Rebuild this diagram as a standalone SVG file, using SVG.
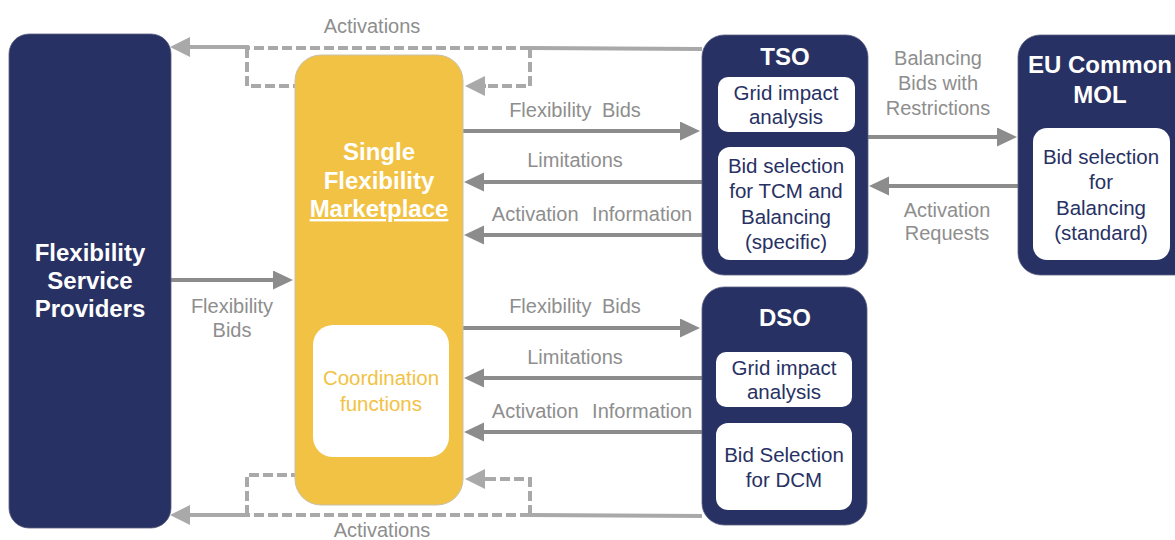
<svg xmlns="http://www.w3.org/2000/svg" width="1175" height="540" viewBox="0 0 1175 540">
<style>
.navy{fill:#283163;stroke:#5a6080;stroke-width:0.8}
.inner{fill:#ffffff}
.t{font-family:"Liberation Sans",Arial,sans-serif;text-anchor:middle}
.title{font-weight:bold;font-size:24px;fill:#ffffff}
.in{font-size:20.5px;fill:#283163}
.lbl{font-size:20px;fill:#8e8e8e}
.arr{stroke:#8c8c8c;stroke-width:4;fill:none}
.act{stroke:#a9a9a9;stroke-width:4;fill:none}
.dash{stroke:#a9a9a9;stroke-width:4;fill:none;stroke-dasharray:10 4}
</style>
<defs>
<marker id="ah" markerUnits="userSpaceOnUse" markerWidth="22" markerHeight="20" refX="1" refY="9.5" orient="auto">
<path d="M0,0 L20,9.5 L0,19 z" fill="#8c8c8c"/>
</marker>
<marker id="ahl" markerUnits="userSpaceOnUse" markerWidth="22" markerHeight="22" refX="1" refY="10" orient="auto">
<path d="M0,0 L20,10 L0,20 z" fill="#a9a9a9"/>
</marker>
</defs>
<rect width="1175" height="540" fill="#ffffff"/>

<g id="connectors">
<!-- top activations -->
<line class="act" x1="702" y1="49" x2="530" y2="48"/>
<line class="dash" x1="530" y1="48" x2="247" y2="48"/>
<line class="act" x1="249" y1="47" x2="189" y2="47" marker-end="url(#ahl)"/>
<polyline class="dash" points="247,48 247,86 295,86"/>
<polyline class="dash" points="530,48 530,86 486,86"/>
<line class="act" x1="486" y1="86" x2="484" y2="86" marker-end="url(#ahl)"/>
<!-- bottom activations -->
<line class="act" x1="702" y1="516" x2="530" y2="515"/>
<line class="dash" x1="530" y1="515" x2="247" y2="515"/>
<line class="act" x1="249" y1="515" x2="189" y2="515" marker-end="url(#ahl)"/>
<polyline class="dash" points="247,515 247,475 295,475"/>
<polyline class="dash" points="530,515 530,479 486,479"/>
<line class="act" x1="486" y1="479" x2="484" y2="479" marker-end="url(#ahl)"/>
<!-- FSP to SFM -->
<line class="arr" x1="171" y1="280" x2="274" y2="280" marker-end="url(#ah)"/>
<!-- SFM <-> TSO -->
<line class="arr" x1="463" y1="131" x2="681" y2="131" marker-end="url(#ah)"/>
<line class="arr" x1="702" y1="182" x2="483" y2="182" marker-end="url(#ah)"/>
<line class="arr" x1="702" y1="235" x2="483" y2="235" marker-end="url(#ah)"/>
<!-- SFM <-> DSO -->
<line class="arr" x1="463" y1="328" x2="681" y2="328" marker-end="url(#ah)"/>
<line class="arr" x1="702" y1="378" x2="483" y2="378" marker-end="url(#ah)"/>
<line class="arr" x1="702" y1="432" x2="483" y2="432" marker-end="url(#ah)"/>
<!-- TSO <-> MOL -->
<line class="arr" x1="868" y1="137" x2="998" y2="137" marker-end="url(#ah)"/>
<line class="arr" x1="1018" y1="186" x2="888" y2="186" marker-end="url(#ah)"/>

<text class="t lbl" x="372" y="33">Activations</text>
<text class="t lbl" x="382" y="537">Activations</text>
<text class="t lbl" x="232" y="313">Flexibility</text>
<text class="t lbl" x="232" y="337">Bids</text>
<text class="t lbl" x="575" y="117" word-spacing="5">Flexibility Bids</text>
<text class="t lbl" x="575" y="167">Limitations</text>
<text class="t lbl" x="592" y="221" word-spacing="8">Activation Information</text>
<text class="t lbl" x="575" y="313" word-spacing="5">Flexibility Bids</text>
<text class="t lbl" x="575" y="364">Limitations</text>
<text class="t lbl" x="592" y="418" word-spacing="8">Activation Information</text>
<text class="t lbl" x="938" y="65">Balancing</text>
<text class="t lbl" x="938" y="90">Bids with</text>
<text class="t lbl" x="938" y="115">Restrictions</text>
<text class="t lbl" x="947" y="217">Activation</text>
<text class="t lbl" x="947" y="240">Requests</text>
</g>

<g id="fsp">
<rect class="navy" x="9" y="34" width="162" height="494" rx="20"/>
<text class="t title" x="90" y="261">Flexibility</text>
<text class="t title" x="90" y="289">Service</text>
<text class="t title" x="90" y="317">Providers</text>
</g>

<g id="sfm">
<rect x="295" y="55" width="168" height="450" rx="26" fill="#f2c244" stroke="#c8c0a8" stroke-width="1"/>
<text class="t title" x="379" y="160">Single</text>
<text class="t title" x="379" y="189">Flexibility</text>
<text class="t title" x="379" y="217" text-decoration="underline">Marketplace</text>
<g id="coordination">
<rect class="inner" x="313" y="325" width="136" height="132" rx="20"/>
<text class="t" x="381" y="385" font-size="20.5" fill="#f2c244">Coordination</text>
<text class="t" x="381" y="411" font-size="20.5" fill="#f2c244">functions</text>
</g>
</g>

<g id="tso">
<rect class="navy" x="702" y="35" width="166" height="240" rx="22"/>
<text class="t title" x="785" y="65">TSO</text>
<g id="tso-grid">
<rect class="inner" x="718" y="77" width="137" height="55" rx="10"/>
<text class="t in" x="786" y="100">Grid impact</text>
<text class="t in" x="786" y="124">analysis</text>
</g>
<g id="tso-bid">
<rect class="inner" x="718" y="147" width="137" height="113" rx="12"/>
<text class="t in" x="786" y="173">Bid selection</text>
<text class="t in" x="786" y="198">for TCM and</text>
<text class="t in" x="786" y="224">Balancing</text>
<text class="t in" x="786" y="249">(specific)</text>
</g>
</g>

<g id="mol">
<rect class="navy" x="1018" y="35" width="180" height="240" rx="22"/>
<text class="t title" x="1100" y="73">EU Common</text>
<text class="t title" x="1100" y="103">MOL</text>
<g id="mol-bid">
<rect class="inner" x="1033" y="128" width="137" height="132" rx="14"/>
<text class="t in" x="1101" y="164">Bid selection</text>
<text class="t in" x="1101" y="189">for</text>
<text class="t in" x="1101" y="215">Balancing</text>
<text class="t in" x="1101" y="240">(standard)</text>
</g>
</g>

<g id="dso">
<rect class="navy" x="702" y="287" width="165" height="238" rx="22"/>
<text class="t title" x="785" y="326">DSO</text>
<g id="dso-grid">
<rect class="inner" x="716" y="352" width="136" height="55" rx="10"/>
<text class="t in" x="784" y="375">Grid impact</text>
<text class="t in" x="784" y="399">analysis</text>
</g>
<g id="dso-bid">
<rect class="inner" x="716" y="423" width="136" height="87" rx="12"/>
<text class="t in" x="784" y="462">Bid Selection</text>
<text class="t in" x="784" y="487">for DCM</text>
</g>
</g>
</svg>
